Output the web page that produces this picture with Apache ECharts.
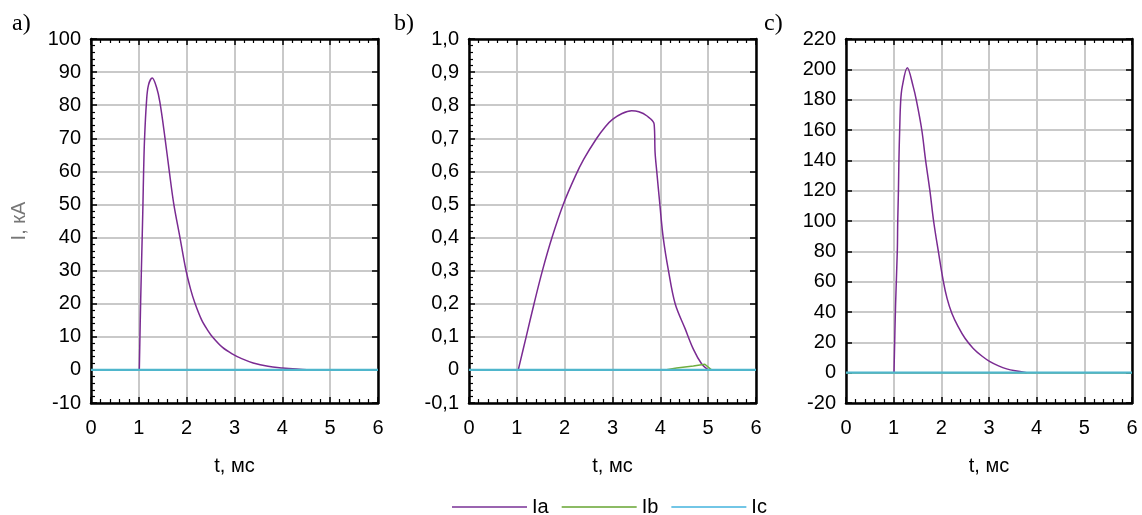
<!DOCTYPE html>
<html>
<head>
<meta charset="utf-8">
<script src="https://cdn.jsdelivr.net/npm/echarts@6/dist/echarts.min.js"></script>
<style>html,body{margin:0;padding:0;background:#fff}#c{width:1142px;height:515px}</style>
</head>
<body>
<div id="c"></div>
<script>
// ---- data ----
const seriesNames = ['Ia', 'Ib', 'Ic'];
const xTicks = [0, 1, 2, 3, 4, 5, 6];

// panel a (t, ms ; I, kA)
const aT_Ia = [0, 1.0, 1.01, 1.04, 1.07, 1.086, 1.10, 1.12, 1.16, 1.2, 1.28, 1.37, 1.44, 1.545, 1.635, 1.73, 1.86, 1.98, 2.08, 2.17, 2.31, 2.43, 2.55, 2.75, 2.97, 3.15, 3.39, 3.7, 4.0, 4.3, 4.6, 6];
const aV_Ia = [0, 0, 0, 22, 40, 50, 60, 70, 81, 86, 88.2, 85.4, 80.9, 70.3, 60.2, 50.2, 40, 30.5, 24.5, 20.3, 15.2, 12.2, 9.8, 6.8, 4.7, 3.4, 2.1, 1.1, 0.6, 0.25, 0, 0];
const aT_Ib = [0, 6];
const aV_Ib = [0, 0];
const aT_Ic = [0, 6];
const aV_Ic = [0, 0];

// panel b
const bT_Ia = [0, 1.03, 1.195, 1.36, 1.535, 1.735, 1.97, 2.22, 2.4, 2.67, 2.85, 3.0, 3.2, 3.4, 3.55, 3.715, 3.87, 3.89, 3.925, 3.99, 4.06, 4.17, 4.31, 4.52, 4.69, 4.865, 5.0, 6];
const bV_Ia = [0, 0, 0.10, 0.20, 0.30, 0.40, 0.50, 0.585, 0.637, 0.70, 0.735, 0.757, 0.775, 0.783, 0.780, 0.768, 0.743, 0.658, 0.60, 0.50, 0.40, 0.30, 0.20, 0.124, 0.063, 0.018, 0, 0];
const bT_Ib = [0, 4.1, 4.34, 4.69, 4.93, 5.07, 6];
const bV_Ib = [0, 0, 0.006, 0.012, 0.017, 0, 0];
const bT_Ic = [0, 6];
const bV_Ic = [0, 0];

// panel c
const cT_Ia = [0, 1.0, 1.007, 1.04, 1.077, 1.085, 1.10, 1.11, 1.126, 1.147, 1.18, 1.286, 1.41, 1.48, 1.59, 1.67, 1.76, 1.84, 1.94, 2.04, 2.12, 2.22, 2.35, 2.5, 2.67, 2.85, 3.02, 3.2, 3.37, 3.55, 3.79, 6];
const cV_Ia = [0, 0, 0, 45, 81, 99.5, 120, 140, 160, 179, 188.6, 201, 188.6, 179, 160, 140, 120, 99.5, 79.4, 60.5, 49, 39.2, 30.5, 22.5, 16, 11, 7.3, 4.5, 2.5, 1.2, 0, 0];
const cT_Ib = [0, 6];
const cV_Ib = [0, 0];
const cT_Ic = [0, 6];
const cV_Ic = [0, 0];

const yAxisDefs = [
  { min: -10, max: 100, interval: 10, fmt: v => String(Math.round(v)) },
  { min: -0.1, max: 1.0, interval: 0.1, fmt: v => Math.abs(v) < 1e-9 ? '0' : (Math.round(v * 10) / 10).toFixed(1).replace('.', ',') },
  { min: -20, max: 220, interval: 20, fmt: v => String(Math.round(v)) }
];
const panelLabels = ['a)', 'b)', 'c)'];
// ---- end data ----

const colors = ['#7a2b92', '#6fae3f', '#4fb6cc'];
const legendColors = ['#9a64b0', '#8cbb64', '#72c6e6'];
const FONT = 'Liberation Sans, Arial, sans-serif';
const FS = 20;

// keep only the non-zero stretch of a trace (plus its bounding zero points)
function trace(t, v) {
  const pts = t.map((x, i) => [x, v[i]]);
  let s = 0, e = pts.length - 1;
  while (s < pts.length - 1 && pts[s + 1][1] === 0) s++;
  while (e > 0 && pts[e - 1][1] === 0) e--;
  if (s >= e) return pts;
  return pts.slice(s, e + 1);
}

const grids = [
  { left: 91, top: 39, width: 287, height: 364 },
  { left: 469, top: 39, width: 287, height: 364 },
  { left: 846, top: 39, width: 286, height: 364 }
];

const xAxes = [], yAxes = [];
grids.forEach((g, i) => {
  xAxes.push({
    gridIndex: i, type: 'value', min: 0, max: 6, interval: 1, position: 'bottom',
    name: 't, мс', nameLocation: 'middle', nameGap: 53,
    nameTextStyle: { fontFamily: FONT, fontSize: FS, color: '#000' },
    axisLine: { show: true, onZero: false, lineStyle: { color: '#000', width: 2.5 } },
    axisTick: { show: true, inside: true, length: 6, lineStyle: { color: '#000', width: 1.5 } },
    minorTick: { show: true, splitNumber: 5, length: 4, lineStyle: { color: '#000', width: 1.2 } },
    splitLine: { show: true, lineStyle: { color: '#c9c9c9', width: 2 } },
    axisLabel: { margin: 15, fontFamily: FONT, fontSize: FS, color: '#000', formatter: v => xTicks.includes(v) ? String(v) : '' }
  });
  xAxes.push({
    gridIndex: i, type: 'value', min: 0, max: 6, interval: 1, position: 'top',
    axisLine: { show: true, onZero: false, lineStyle: { color: '#000', width: 2.5 } },
    axisTick: { show: true, inside: true, length: 6, lineStyle: { color: '#000', width: 1.5 } },
    minorTick: { show: true, splitNumber: 5, length: 4, lineStyle: { color: '#000', width: 1.2 } },
    splitLine: { show: false }, axisLabel: { show: false }
  });
  const d = yAxisDefs[i];
  yAxes.push({
    gridIndex: i, type: 'value', min: d.min, max: d.max, interval: d.interval, position: 'left',
    name: i === 0 ? 'I, кА' : '', nameLocation: 'middle', nameGap: 62,
    nameTextStyle: { fontFamily: FONT, fontSize: FS, color: '#777' },
    axisLine: { show: true, onZero: false, lineStyle: { color: '#000', width: 2.5 } },
    axisTick: { show: true, inside: true, length: 6, lineStyle: { color: '#000', width: 1.5 } },
    minorTick: { show: i !== 2, splitNumber: 5, length: 4, lineStyle: { color: '#000', width: 1.2 } },
    splitLine: { show: true, lineStyle: { color: '#c9c9c9', width: 2 } },
    axisLabel: { margin: 10, fontFamily: FONT, fontSize: FS, color: '#000', formatter: d.fmt }
  });
  yAxes.push({
    gridIndex: i, type: 'value', min: d.min, max: d.max, interval: d.interval, position: 'right',
    axisLine: { show: true, onZero: false, lineStyle: { color: '#000', width: 2.5 } },
    axisTick: { show: true, inside: true, length: 6, lineStyle: { color: '#000', width: 1.5 } },
    splitLine: { show: false }, axisLabel: { show: false }
  });
});

const panelData = [
  [trace(aT_Ia, aV_Ia), trace(aT_Ib, aV_Ib), trace(aT_Ic, aV_Ic)],
  [trace(bT_Ia, bV_Ia), trace(bT_Ib, bV_Ib), trace(bT_Ic, bV_Ic)],
  [trace(cT_Ia, cV_Ia), trace(cT_Ib, cV_Ib), trace(cT_Ic, cV_Ic)]
];
const series = [];
panelData.forEach((pd, i) => {
  pd.forEach((data, k) => {
    series.push({
      name: seriesNames[k], type: 'line', xAxisIndex: 2 * i, yAxisIndex: 2 * i,
      data, showSymbol: false, symbol: 'none', smooth: k === 0 ? 0.35 : false,
      lineStyle: { color: colors[k], width: k === 2 ? 2.2 : 1.5 },
      itemStyle: { color: colors[k] }, animation: false, z: 3 + k
    });
  });
});

const chart = echarts.init(document.getElementById('c'), null, { renderer: 'canvas' });
chart.setOption({
  animation: false,
  grid: grids,
  xAxis: xAxes,
  yAxis: yAxes,
  series,
  legend: {
    data: seriesNames.map((n, k) => ({ name: n, itemStyle: { color: legendColors[k] } })),
    left: 447, top: 492, icon: 'rect', itemWidth: 75, itemHeight: 2, itemGap: 13,
    textStyle: { fontFamily: FONT, fontSize: FS, color: '#000' }
  },
  graphic: panelLabels.map((t, i) => ({
    type: 'text', left: [12, 394, 764][i], top: 12,
    style: { text: t, font: '24px "Liberation Serif", "Times New Roman", serif', fill: '#000' }
  }))
});
</script>
</body>
</html>
